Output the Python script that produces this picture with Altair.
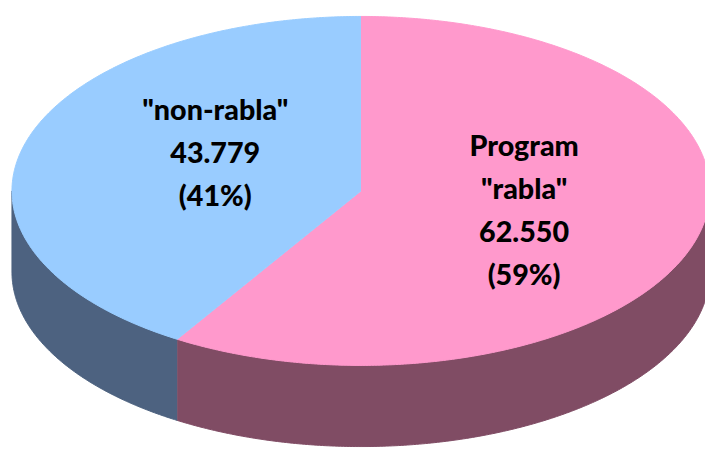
import altair as alt
import numpy as np
import pandas as pd

# ---- data ----
categories = ['Program "rabla"', '"non-rabla"']
label_names = ['Program\n"rabla"', '"non-rabla"']
values = [62550, 43779]
top_colors = ["#FF99CC", "#99CCFF"]
side_colors = ["#804C64", "#4D6280"]

# ---- build the 3D-pie shapes from the values ----
total = sum(values)
DEPTH = 0.465
LINE_H = 43.5
RY_PX = 176.5
rows_top, rows_side, labels = [], [], []
start = 0.0
for i, (cat, name, val) in enumerate(zip(categories, label_names, values)):
    sweep = val / total * 360.0
    end = start + sweep
    th = np.radians(np.linspace(start, end, int(sweep * 2) + 2))
    pts = [(0.0, 0.0)] + [(float(np.sin(t)), float(-np.cos(t))) for t in th]
    for k, (u, v) in enumerate(pts):
        rows_top.append(dict(key=cat + " top", u=u, v=v, k=k))
    a, b = max(start, 90.0), min(end, 270.0)
    if b > a:
        ts = np.radians(np.linspace(a, b, int((b - a) * 2) + 2))
        up = [(float(np.sin(t)), float(-np.cos(t))) for t in ts]
        poly = up + [(u, v + DEPTH) for (u, v) in reversed(up)]
        for k, (u, v) in enumerate(poly):
            rows_side.append(dict(key=cat + " side", u=u, v=v, k=k))
    mid = np.radians(start + sweep / 2)
    num = f"{val:,}".replace(",", ".")
    pct = round(val / total * 100)
    text = f"{name}\n{num}\n({pct}%)"
    nlines = text.count("\n") + 1
    labels.append(dict(u=float(np.sin(mid)) * 0.46 + 0.025,
                       v=float(-np.cos(mid)) * 0.6 - 0.047 - (nlines - 1) / 2 * LINE_H / RY_PX,
                       text=text))
    start = end

top_df = pd.DataFrame(rows_top)
side_df = pd.DataFrame(rows_side)
lab_df = pd.DataFrame(labels)

keys = [c + " top" for c in categories] + [c + " side" for c in categories]
cols = top_colors + side_colors
cscale = alt.Scale(domain=keys, range=cols)

xs = alt.X("u:Q", scale=alt.Scale(domain=[-1, 1], range=[4, 710], nice=False, zero=False), axis=None)
ys = alt.Y("v:Q", scale=alt.Scale(domain=[-1, 1], range=[6, 359], nice=False, zero=False), axis=None)


def shape_layer(df):
    return alt.Chart(df).mark_line(clip=True, strokeWidth=1, interpolate="linear").encode(
        x=xs, y=ys,
        fill=alt.Fill("key:N", scale=cscale, legend=None),
        stroke=alt.Stroke("key:N", scale=cscale, legend=None),
        detail="key:N",
        order="k:Q",
    )


text = alt.Chart(lab_df).mark_text(
    font="Lato", fontSize=29, fontWeight=900, lineBreak="\n", lineHeight=LINE_H,
    align="center", baseline="middle", color="black",
).encode(x=xs, y=ys, text="text:N")

chart = alt.layer(shape_layer(side_df), shape_layer(top_df), text).properties(
    width=705, height=442, autosize=alt.AutoSizeParams(type="none"), padding=0
).configure_view(stroke=None)

chart.save("out.html", embed_options={"renderer": "svg", "actions": False})
